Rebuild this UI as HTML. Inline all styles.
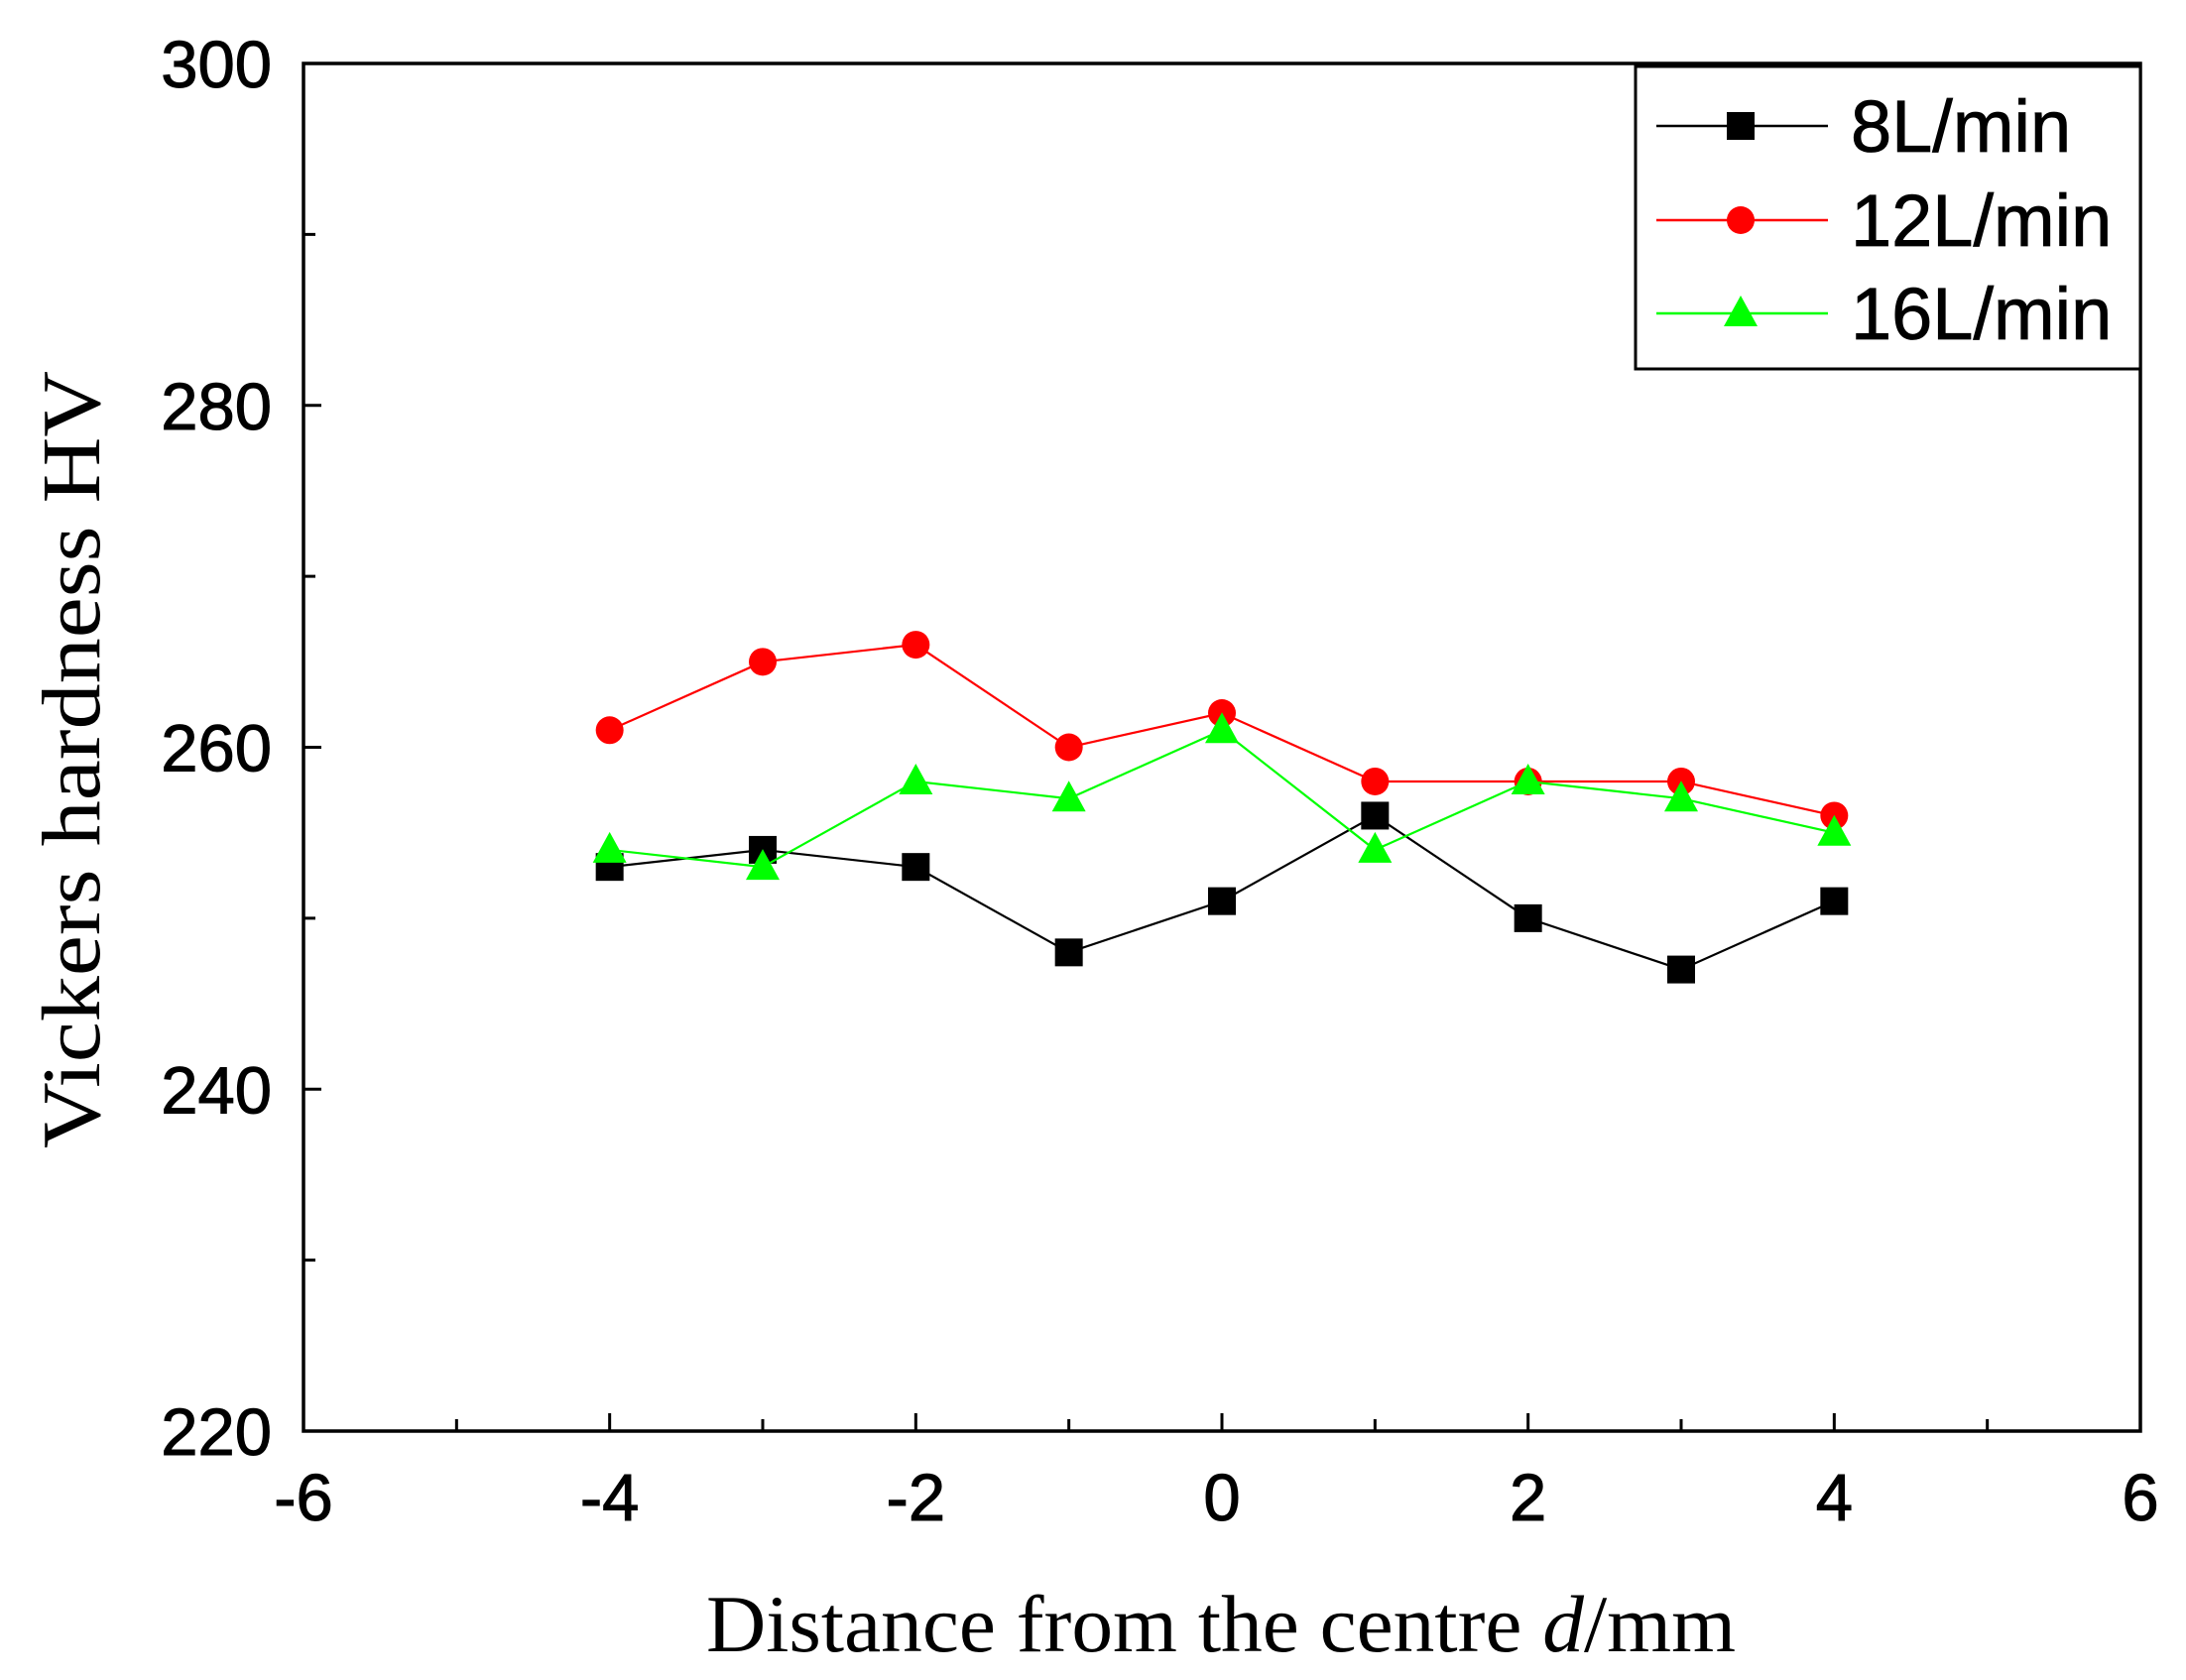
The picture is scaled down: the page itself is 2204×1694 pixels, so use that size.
<!DOCTYPE html>
<html><head><meta charset="utf-8"><style>
html,body{margin:0;padding:0;background:#fff;}
svg{display:block;}
</style></head><body>
<svg id="chart" width="2204" height="1694" viewBox="0 0 2204 1694" xmlns="http://www.w3.org/2000/svg"></svg>
<script>
const xValues = [-4, -3, -2, -1, 0, 1, 2, 3, 4];
const series8 = [253, 254, 253, 248, 251, 256, 250, 247, 251];
const series12 = [261, 265, 266, 260, 262, 258, 258, 258, 256];
const series16 = [254, 253, 258, 257, 261, 254, 258, 257, 255];
const seriesNames = ["8L/min", "12L/min", "16L/min"];
const xTicks = [-6, -4, -2, 0, 2, 4, 6];
const yTicks = [220, 240, 260, 280, 300];

const NS = "http://www.w3.org/2000/svg";
const svg = document.getElementById('chart');
const L = 306, R = 2158, T = 64, B = 1443;
const xMin = -6, xMax = 6, yMin = 220, yMax = 300;
function sx(v){ return L + (v - xMin) / (xMax - xMin) * (R - L); }
function sy(v){ return B - (v - yMin) / (yMax - yMin) * (B - T); }
function mk(tag, attrs, parent){
  const e = document.createElementNS(NS, tag);
  for (const k in attrs) e.setAttribute(k, attrs[k]);
  (parent || svg).appendChild(e);
  return e;
}

const frame = mk('rect', {x:L, y:T, width:R-L, height:B-T, fill:'none', stroke:'#000', 'stroke-width':3.5});



for (let v = -6; v <= 6; v++) {
  const major = v % 2 === 0;
  const len = major ? 18 : 12;
  const t = mk('line', {x1:sx(v), x2:sx(v), y1:B, y2:B-len, stroke:'#000', 'stroke-width':3});
  
  
}
xTicks.forEach(v => {
  const t = mk('text', {x:sx(v), y:1533, 'font-family':'Liberation Sans, sans-serif', 'font-size':67, 'text-anchor':'middle', stroke:'#000', 'stroke-width':1});
  t.textContent = String(v);
  
  
});
for (let v = 220; v <= 300; v += 10) {
  const major = v % 20 === 0;
  const len = major ? 18 : 12;
  const t = mk('line', {x1:L, x2:L+len, y1:sy(v), y2:sy(v), stroke:'#000', 'stroke-width':3});
  
  
}
yTicks.forEach(v => {
  const t = mk('text', {x:274, y:sy(v)+24, 'font-family':'Liberation Sans, sans-serif', 'font-size':67, 'text-anchor':'end', stroke:'#000', 'stroke-width':1});
  t.textContent = String(v);
  
  
});

const xt = mk('text', {x:1231, y:1665, 'font-family':'Liberation Serif, serif', 'font-size':82, 'text-anchor':'middle', textLength:1038, lengthAdjust:'spacingAndGlyphs'});
xt.innerHTML = 'Distance from the centre <tspan font-style="italic">d</tspan>/mm';


const yt = mk('text', {x:0, y:0, 'font-family':'Liberation Serif, serif', 'font-size':84, 'text-anchor':'middle', textLength:784, lengthAdjust:'spacingAndGlyphs', transform:'translate(100,766) rotate(-90)'});
yt.textContent = 'Vickers hardness HV';



function marker(type, cx, cy, color, parent){
  let m;
  if (type === 'square') m = mk('rect', {x:cx-14, y:cy-14, width:28, height:28, fill:color}, parent);
  else if (type === 'circle') m = mk('circle', {cx:cx, cy:cy, r:14, fill:color}, parent);
  else m = mk('polygon', {points:`${cx},${cy-18} ${cx-17},${cy+13} ${cx+17},${cy+13}`, fill:color}, parent);
  return m;
}

const allSeries = [
  {vals: series8, color:'#000000', type:'square', key:'8'},
  {vals: series12, color:'#ff0000', type:'circle', key:'12'},
  {vals: series16, color:'#00ff00', type:'triangle', key:'16'}
];
allSeries.forEach((s, i) => {
  const g = mk('g', {});
  
  
  const pts = xValues.map((x, j) => sx(x) + ',' + sy(s.vals[j])).join(' ');
  const pl = mk('polyline', {points:pts, fill:'none', stroke:s.color, 'stroke-width':2.2}, g);
  
  
  xValues.forEach((x, j) => {
    const m = marker(s.type, sx(x), sy(s.vals[j]), s.color, g);
    
    
  });
});

const lg = mk('g', {});


const lb = mk('rect', {x:1649, y:67, width:R-1649, height:305, fill:'#fff', stroke:'#000', 'stroke-width':3}, lg);


const rowsY = [127, 222, 316];
allSeries.forEach((s, i) => {
  const y = rowsY[i];
  const e = mk('g', {}, lg);
  
  
  mk('line', {x1:1670, x2:1843, y1:y, y2:y, stroke:s.color, 'stroke-width':2.5}, e);
  marker(s.type, 1755, y, s.color, e);
  const t = mk('text', {x:1866, y:y+26, 'font-family':'Liberation Sans, sans-serif', 'font-size':74, stroke:'#000', 'stroke-width':0.8}, e);
  t.textContent = seriesNames[i];
});
</script>
</body></html>
